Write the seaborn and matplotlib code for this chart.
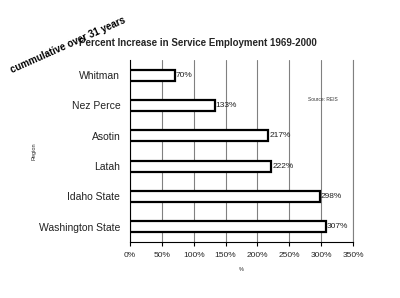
import matplotlib
matplotlib.use("Agg")
import matplotlib.pyplot as plt
import seaborn as sns
import pandas as pd
from matplotlib.ticker import FuncFormatter

regions = ["Whitman", "Nez Perce", "Asotin", "Latah", "Idaho State", "Washington State"]
values = [70, 133, 217, 222, 298, 307]
xticks = [0, 50, 100, 150, 200, 250, 300, 350]

df = pd.DataFrame({"Region": regions, "Pct": values})

sns.set_theme(style="white")
plt.rcParams["font.family"] = ["Liberation Sans", "DejaVu Sans"]

fig = plt.figure(figsize=(4.0, 2.98), dpi=100)
ax = fig.add_axes([0.325, 0.188, 0.5575, 0.611])

sns.barplot(data=df, y="Region", x="Pct", order=regions, color="white",
            edgecolor="black", linewidth=1.6, width=0.36, ax=ax, zorder=3)

ax.set_xlim(0, 350)
ax.set_xticks(xticks)
ax.xaxis.set_major_formatter(FuncFormatter(lambda v, p: f"{int(v)}%"))
ax.grid(axis="x", color="#808080", linewidth=0.8, zorder=0)
ax.set_axisbelow(True)

ax.spines["top"].set_visible(False)
ax.spines["right"].set_color("#808080")
ax.spines["right"].set_linewidth(0.8)
for s in ["left", "bottom"]:
    ax.spines[s].set_color("black")
    ax.spines[s].set_linewidth(0.8)

ax.set_yticks(list(range(len(regions))))
ax.set_yticklabels(regions, fontsize=7.5, color="#222222")
ax.tick_params(axis="y", length=0, pad=7)
ax.set_yticks([i + 0.5 for i in range(-1, len(regions))], minor=True)
ax.tick_params(axis="y", which="minor", length=3, color="black", width=0.8, direction="out")
ax.tick_params(axis="x", length=3, color="black", width=0.8, direction="out",
               labelsize=6, pad=4, bottom=True)
ax.set_ylim(len(regions) - 0.5, -0.5)

ax.set_xlabel("%", fontsize=4, labelpad=6)
ax.set_ylabel("Region", fontsize=4, labelpad=2)

for i, v in enumerate(values):
    ax.text(v + 1.5, i, f"{v}%", va="center", ha="left", fontsize=6, color="#222222")

ax.text(0.93, 0.78, "Source: REIS", transform=ax.transAxes, fontsize=3.5,
        ha="right", va="center", color="#333333")

fig.text(0.495, 0.855, "Percent Increase in Service Employment 1969-2000",
         ha="center", va="center", fontsize=7, fontweight="bold")

fig.text(0.17, 0.85, "cummulative over 31 years", rotation=24, ha="center", va="center",
         fontsize=7, fontweight="bold", family=["Liberation Sans", "DejaVu Sans"],
         color="black")

fig.savefig("out.png", dpi=100, facecolor="white")
